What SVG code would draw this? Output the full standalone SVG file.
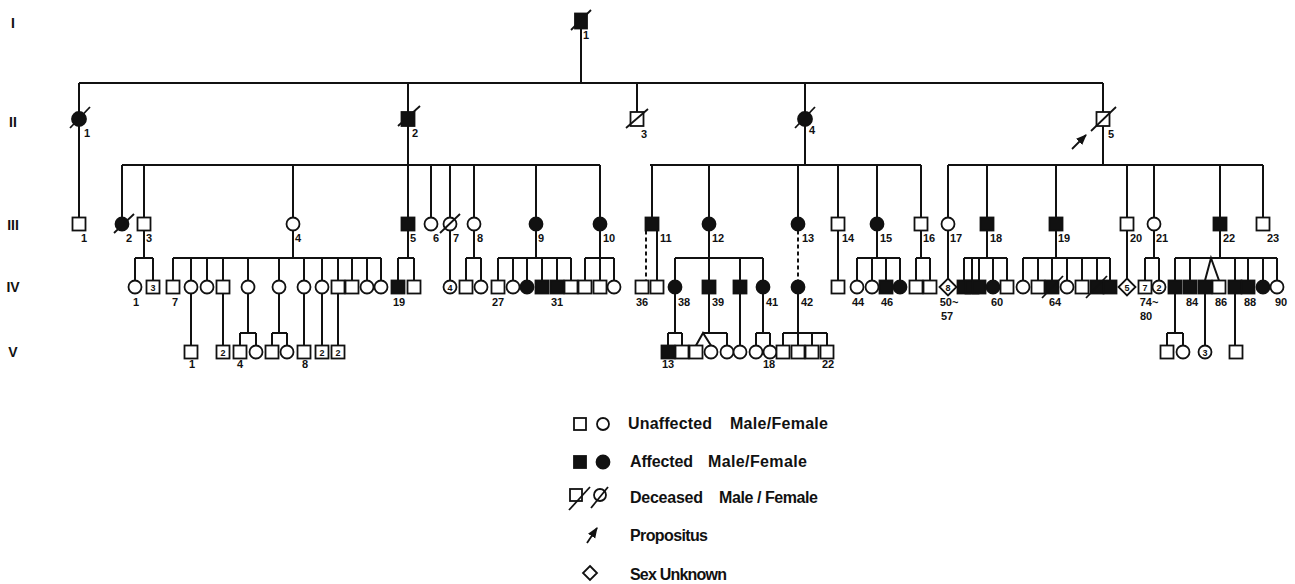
<svg xmlns="http://www.w3.org/2000/svg" width="1295" height="584" viewBox="0 0 1295 584">
<style>
.ln{stroke:#111;stroke-width:2;fill:none}
.d{stroke-dasharray:4 3}
.s,.c,.dm{fill:#fff;stroke:#111;stroke-width:1.8}
.a{fill:#111}
.x{stroke:#111;stroke-width:1.8;fill:none}
.t{font-family:"Liberation Sans",Arial,sans-serif;font-weight:bold;font-size:11px;fill:#111}
.g{font-size:14px;text-anchor:middle}
.in{font-size:9px;text-anchor:middle}
.m{text-anchor:middle}
.lg{font-size:16px}
</style>
<defs>
<marker id="ah" viewBox="0 0 10 10" refX="9" refY="5" markerWidth="6" markerHeight="6" orient="auto"><path d="M0 1L10 5L0 9z" fill="#111"/></marker>
</defs>
<rect width="1295" height="584" fill="#fff"/>
<g id="gen-labels">
<text class="t g" x="13" y="28">I</text>
<text class="t g" x="13" y="127">II</text>
<text class="t g" x="13" y="230">III</text>
<text class="t g" x="13" y="292">IV</text>
<text class="t g" x="13" y="357">V</text>
</g>
<g id="connectors" class="ln">
<path d="M581 28V83M79 83H1103M79 83V112M408 83V112M637 83V112M805 83V112M1103 83V112"/>
<path d="M79 126V217.5M408 126V217.5M805 126V165M1103 126V165"/>
<path d="M122 165H600M650 165H921M948 165H1263"/>
<path d="M122 165V217.5M144 165V217.5M293 165V217.5M431 165V217.5M450 165V217.5M474 165V217.5M536 165V217.5M600 165V217.5M652 165V217.5M709 165V217.5M798 165V217.5M838 165V217.5M877 165V217.5M921 165V217.5M948 165V217.5M987 165V217.5M1056 165V217.5M1127 165V217.5M1154 165V217.5M1220 165V217.5M1263 165V217.5"/>
<path d="M144 230.5V258M135 258H153M135 258V280.5M153 258V280.5"/>
<path d="M293 230.5V258M173 258H381M173 258V280.5M191 258V280.5M207 258V280.5M223 258V280.5M248 258V280.5M279 258V280.5M304 258V280.5M322 258V280.5M338 258V280.5M352 258V280.5M367 258V280.5M381 258V280.5"/>
<path d="M408 230.5V258M398 258H414M398 258V280.5M414 258V280.5"/>
<path d="M450 230.5V280.5"/>
<path d="M474 230.5V258M466 258H481M466 258V280.5M481 258V280.5"/>
<path d="M536 230.5V258M498 258H571M498 258V280.5M513 258V280.5M527 258V280.5M542 258V280.5M557 258V280.5M571 258V280.5"/>
<path d="M600 230.5V258M585 258H614M585 258V280.5M600 258V280.5M614 258V280.5"/>
<path class="d" d="M646 230.5V280.5"/>
<path d="M657 230.5V280.5"/>
<path d="M709 230.5V258M675 258H763M675 258V280.5M709 258V280.5M740 258V280.5M763 258V280.5"/>
<path class="d" d="M798 230.5V280.5"/>
<path d="M838 230.5V280.5"/>
<path d="M877 230.5V258M857 258H900M857 258V280.5M872 258V280.5M886 258V280.5M900 258V280.5"/>
<path d="M921 230.5V258M916 258H930M916 258V280.5M930 258V280.5"/>
<path d="M948 230.5V278.5"/>
<path d="M987 230.5V258M964 258H1007M964 258V280.5M972 258V280.5M979 258V280.5M993 258V280.5M1007 258V280.5"/>
<path d="M1056 230.5V258M1023 258H1110M1023 258V280.5M1038 258V280.5M1052 258V280.5M1067 258V280.5M1082 258V280.5M1097 258V280.5M1110 258V280.5"/>
<path d="M1127 230.5V278.5"/>
<path d="M1154 230.5V258M1145 258H1159M1145 258V280.5M1159 258V280.5"/>
<path d="M1220 230.5V258M1175 258H1277M1175 258V280.5M1190 258V280.5M1235 258V280.5M1248 258V280.5M1263 258V280.5M1277 258V280.5M1205 280.5L1211 258L1219 280.5"/>
<path d="M191 293.5V345.5M223 293.5V345.5M304 293.5V345.5M322 293.5V345.5M338 293.5V345.5"/>
<path d="M248 293.5V333M240 333H256M240 333V345.5M256 333V345.5"/>
<path d="M279 293.5V333M272 333H287M272 333V345.5M287 333V345.5"/>
<path d="M675 293.5V333M668 333H682M668 333V345.5M682 333V345.5"/>
<path d="M709 293.5V333M703 333H727M727 333V345.5M696 345.5L703 333L711 345.5"/>
<path d="M740 293.5V345.5"/>
<path d="M763 293.5V333M756 333H770M756 333V345.5M770 333V345.5"/>
<path d="M798 293.5V333M783 333H827M783 333V345.5M798 333V345.5M812 333V345.5M827 333V345.5"/>
<path d="M1175 293.5V333M1167 333H1183M1167 333V345.5M1183 333V345.5"/>
<path d="M1205 293.5V345.5M1235 293.5V345.5"/>
</g>
<g id="I-1"><rect class="s a" x="575" y="13.5" width="12" height="15"/><path class="x" d="M571 30L591 10"/><text class="t" x="583" y="39">1</text></g>
<g id="II-1"><circle class="c a" cx="79" cy="119" r="7"/><path class="x" d="M70 128L90 107"/><text class="t" x="84" y="137">1</text></g>
<g id="II-2"><rect class="s a" x="401.5" y="112" width="13" height="14"/><path class="x" d="M398 126L420 106"/><text class="t" x="412" y="137">2</text></g>
<g id="II-3"><rect class="s" x="630.5" y="112" width="13" height="14"/><path class="x" d="M626 128L648 109"/><text class="t" x="641" y="138">3</text></g>
<g id="II-4"><circle class="c a" cx="805" cy="119" r="7"/><path class="x" d="M795 128L815 107"/><text class="t" x="809" y="134">4</text></g>
<g id="II-5"><rect class="s" x="1096.5" y="112" width="13" height="14"/><path class="x" d="M1091 131L1116 107"/><text class="t" x="1108" y="138">5</text><path class="x" d="M1072 149L1086 135" marker-end="url(#ah)"/></g>
<g id="III-1"><rect class="s" x="72.5" y="217.5" width="13" height="13"/><text class="t" x="81" y="242">1</text></g>
<g id="III-2"><circle class="c a" cx="122" cy="224" r="6.5"/><path class="x" d="M114 233L134 214"/><text class="t" x="126" y="242">2</text></g>
<g id="III-3"><rect class="s" x="137.5" y="217.5" width="13" height="13"/><text class="t" x="146" y="242">3</text></g>
<g id="III-4"><circle class="c" cx="293" cy="224" r="6.5"/><text class="t" x="295" y="242">4</text></g>
<g id="III-5"><rect class="s a" x="401.5" y="217.5" width="13" height="13"/><text class="t" x="410" y="242">5</text></g>
<g id="III-6"><circle class="c" cx="431" cy="224" r="6.5"/><text class="t" x="433" y="242">6</text></g>
<g id="III-7"><circle class="c" cx="450" cy="224" r="6.5"/><path class="x" d="M440 233L460 214"/><text class="t" x="453" y="242">7</text></g>
<g id="III-8"><circle class="c" cx="474" cy="224" r="6.5"/><text class="t" x="477" y="242">8</text></g>
<g id="III-9"><circle class="c a" cx="536" cy="224" r="6.5"/><text class="t" x="538" y="242">9</text></g>
<g id="III-10"><circle class="c a" cx="600" cy="224" r="6.5"/><text class="t" x="603" y="242">10</text></g>
<g id="III-11"><rect class="s a" x="645.5" y="217.5" width="13" height="13"/><text class="t" x="660" y="242">11</text></g>
<g id="III-12"><circle class="c a" cx="709" cy="224" r="6.5"/><text class="t" x="712" y="242">12</text></g>
<g id="III-13"><circle class="c a" cx="798" cy="224" r="6.5"/><text class="t" x="802" y="242">13</text></g>
<g id="III-14"><rect class="s" x="831.5" y="217.5" width="13" height="13"/><text class="t" x="842" y="242">14</text></g>
<g id="III-15"><circle class="c a" cx="877" cy="224" r="6.5"/><text class="t" x="880" y="242">15</text></g>
<g id="III-16"><rect class="s" x="914.5" y="217.5" width="13" height="13"/><text class="t" x="923" y="242">16</text></g>
<g id="III-17"><circle class="c" cx="948" cy="224" r="6.5"/><text class="t" x="950" y="242">17</text></g>
<g id="III-18"><rect class="s a" x="980.5" y="217.5" width="13" height="13"/><text class="t" x="990" y="242">18</text></g>
<g id="III-19"><rect class="s a" x="1049.5" y="217.5" width="13" height="13"/><text class="t" x="1058" y="242">19</text></g>
<g id="III-20"><rect class="s" x="1120.5" y="217.5" width="13" height="13"/><text class="t" x="1130" y="242">20</text></g>
<g id="III-21"><circle class="c" cx="1154" cy="224" r="6.5"/><text class="t" x="1156" y="242">21</text></g>
<g id="III-22"><rect class="s a" x="1213.5" y="217.5" width="13" height="13"/><text class="t" x="1223" y="242">22</text></g>
<g id="III-23"><rect class="s" x="1256.5" y="217.5" width="13" height="13"/><text class="t" x="1267" y="242">23</text></g>
<g id="IV-1"><circle class="c" cx="135" cy="287" r="6.5"/><text class="t m" x="136" y="306">1</text></g>
<g id="IV-2-4"><rect class="s" x="146.5" y="280.5" width="13" height="13"/><text class="t in" x="153" y="290.5">3</text></g>
<g id="IV-7"><rect class="s" x="166.5" y="280.5" width="13" height="13"/><text class="t m" x="175" y="306">7</text></g>
<g id="IV-8"><circle class="c" cx="191" cy="287" r="6.5"/></g>
<g id="IV-9"><circle class="c" cx="207" cy="287" r="6.5"/></g>
<g id="IV-10"><rect class="s" x="216.5" y="280.5" width="13" height="13"/></g>
<g id="IV-11"><circle class="c" cx="248" cy="287" r="6.5"/></g>
<g id="IV-12"><circle class="c" cx="279" cy="287" r="6.5"/></g>
<g id="IV-13"><circle class="c" cx="304" cy="287" r="6.5"/></g>
<g id="IV-14"><circle class="c" cx="322" cy="287" r="6.5"/></g>
<g id="IV-15"><rect class="s" x="331.5" y="280.5" width="13" height="13"/></g>
<g id="IV-16"><rect class="s" x="345.5" y="280.5" width="13" height="13"/></g>
<g id="IV-17"><circle class="c" cx="367" cy="287" r="6.5"/></g>
<g id="IV-18"><circle class="c" cx="381" cy="287" r="6.5"/></g>
<g id="IV-19"><rect class="s a" x="391.5" y="280.5" width="13" height="13"/><text class="t m" x="399" y="306">19</text></g>
<g id="IV-20"><rect class="s" x="407.5" y="280.5" width="13" height="13"/></g>
<g id="IV-21-24"><circle class="c" cx="450" cy="287" r="6.5"/><text class="t in" x="450" y="290.5">4</text></g>
<g id="IV-25"><rect class="s" x="459.5" y="280.5" width="13" height="13"/></g>
<g id="IV-26"><circle class="c" cx="481" cy="287" r="6.5"/></g>
<g id="IV-27"><rect class="s" x="491.5" y="280.5" width="13" height="13"/><text class="t m" x="498" y="306">27</text></g>
<g id="IV-28"><circle class="c" cx="513" cy="287" r="6.5"/></g>
<g id="IV-29"><circle class="c a" cx="527" cy="287" r="6.5"/></g>
<g id="IV-30"><rect class="s a" x="535.5" y="280.5" width="13" height="13"/></g>
<g id="IV-31"><rect class="s a" x="550.5" y="280.5" width="13" height="13"/><text class="t m" x="557" y="306">31</text></g>
<g id="IV-32"><rect class="s" x="564.5" y="280.5" width="13" height="13"/></g>
<g id="IV-33"><rect class="s" x="578.5" y="280.5" width="13" height="13"/></g>
<g id="IV-34"><rect class="s" x="593.5" y="280.5" width="13" height="13"/></g>
<g id="IV-35"><circle class="c" cx="614" cy="287" r="6.5"/></g>
<g id="IV-36"><rect class="s" x="635.5" y="280.5" width="13" height="13"/><text class="t m" x="642" y="306">36</text></g>
<g id="IV-37"><rect class="s" x="650.5" y="280.5" width="13" height="13"/></g>
<g id="IV-38"><circle class="c a" cx="675" cy="287" r="6.5"/><text class="t" x="678" y="306">38</text></g>
<g id="IV-39"><rect class="s a" x="702.5" y="280.5" width="13" height="13"/><text class="t" x="712" y="306">39</text></g>
<g id="IV-40"><rect class="s a" x="733.5" y="280.5" width="13" height="13"/></g>
<g id="IV-41"><circle class="c a" cx="763" cy="287" r="6.5"/><text class="t" x="766" y="306">41</text></g>
<g id="IV-42"><circle class="c a" cx="798" cy="287" r="6.5"/><text class="t" x="801" y="306">42</text></g>
<g id="IV-43"><rect class="s" x="831.5" y="280.5" width="13" height="13"/></g>
<g id="IV-44"><circle class="c" cx="857" cy="287" r="6.5"/><text class="t m" x="858" y="306">44</text></g>
<g id="IV-45"><circle class="c" cx="872" cy="287" r="6.5"/></g>
<g id="IV-46"><rect class="s a" x="879.5" y="280.5" width="13" height="13"/><text class="t m" x="887" y="306">46</text></g>
<g id="IV-47"><circle class="c a" cx="900" cy="287" r="6.5"/></g>
<g id="IV-48"><rect class="s" x="909.5" y="280.5" width="13" height="13"/></g>
<g id="IV-49"><rect class="s" x="923.5" y="280.5" width="13" height="13"/></g>
<g id="IV-50-57"><path class="dm" d="M948 278.5L956.5 287L948 295.5L939.5 287Z"/><text class="t in" x="948" y="290.5">8</text><text class="t m" x="949" y="306">50~</text><text class="t m" x="947" y="320">57</text></g>
<g id="IV-58"><rect class="s a" x="957.5" y="280.5" width="13" height="13"/></g>
<g id="IV-59"><rect class="s a" x="965.5" y="280.5" width="13" height="13"/></g>
<g id="IV-59b"><rect class="s a" x="972.5" y="280.5" width="13" height="13"/></g>
<g id="IV-60"><circle class="c a" cx="993" cy="287" r="6.5"/><text class="t m" x="997" y="306">60</text></g>
<g id="IV-61"><rect class="s" x="1000.5" y="280.5" width="13" height="13"/></g>
<g id="IV-62"><circle class="c" cx="1023" cy="287" r="6.5"/></g>
<g id="IV-63"><rect class="s" x="1031.5" y="280.5" width="13" height="13"/></g>
<g id="IV-64"><rect class="s a" x="1045.5" y="280.5" width="13" height="13"/><path class="x" d="M1042 298L1063 276"/><text class="t m" x="1055" y="306">64</text></g>
<g id="IV-65"><circle class="c" cx="1067" cy="287" r="6.5"/></g>
<g id="IV-66"><rect class="s" x="1075.5" y="280.5" width="13" height="13"/></g>
<g id="IV-67"><rect class="s a" x="1090.5" y="280.5" width="13" height="13"/><path class="x" d="M1086 298L1107 276"/></g>
<g id="IV-68"><rect class="s a" x="1103.5" y="280.5" width="13" height="13"/></g>
<g id="IV-69-73"><path class="dm" d="M1127 278.5L1135.5 287L1127 295.5L1118.5 287Z"/><text class="t in" x="1127" y="290.5">5</text></g>
<g id="IV-74-80"><rect class="s" x="1138.5" y="280.5" width="13" height="13"/><text class="t in" x="1145" y="290.5">7</text><text class="t m" x="1149" y="306">74~</text><text class="t m" x="1146" y="320">80</text></g>
<g id="IV-81-82"><circle class="c" cx="1159" cy="287" r="6.5"/><text class="t in" x="1159" y="290.5">2</text></g>
<g id="IV-83"><rect class="s a" x="1168.5" y="280.5" width="13" height="13"/></g>
<g id="IV-84"><rect class="s a" x="1183.5" y="280.5" width="13" height="13"/><text class="t m" x="1192" y="306">84</text></g>
<g id="IV-85"><rect class="s a" x="1198.5" y="280.5" width="13" height="13"/></g>
<g id="IV-86"><rect class="s" x="1212.5" y="280.5" width="13" height="13"/><text class="t m" x="1221" y="306">86</text></g>
<g id="IV-87"><rect class="s a" x="1228.5" y="280.5" width="13" height="13"/></g>
<g id="IV-88"><rect class="s a" x="1241.5" y="280.5" width="13" height="13"/><text class="t m" x="1250" y="306">88</text></g>
<g id="IV-89"><circle class="c a" cx="1263" cy="287" r="6.5"/></g>
<g id="IV-90"><circle class="c" cx="1277" cy="287" r="6.5"/><text class="t m" x="1281" y="306">90</text></g>
<g id="V-1"><rect class="s" x="184.5" y="345.5" width="13" height="13"/><text class="t m" x="192" y="368">1</text></g>
<g id="V-2-3"><rect class="s" x="216.5" y="345.5" width="13" height="13"/><text class="t in" x="223" y="355.5">2</text></g>
<g id="V-4"><rect class="s" x="233.5" y="345.5" width="13" height="13"/><text class="t m" x="240" y="368">4</text></g>
<g id="V-5"><circle class="c" cx="256" cy="352" r="6.5"/></g>
<g id="V-6"><rect class="s" x="265.5" y="345.5" width="13" height="13"/></g>
<g id="V-7"><circle class="c" cx="287" cy="352" r="6.5"/></g>
<g id="V-8"><rect class="s" x="297.5" y="345.5" width="13" height="13"/><text class="t m" x="305" y="368">8</text></g>
<g id="V-9-10"><rect class="s" x="315.5" y="345.5" width="13" height="13"/><text class="t in" x="322" y="355.5">2</text></g>
<g id="V-11-12"><rect class="s" x="331.5" y="345.5" width="13" height="13"/><text class="t in" x="338" y="355.5">2</text></g>
<g id="V-13"><rect class="s a" x="661.5" y="345.5" width="13" height="13"/><text class="t m" x="668" y="368">13</text></g>
<g id="V-14"><rect class="s" x="675.5" y="345.5" width="13" height="13"/></g>
<g id="V-15"><rect class="s" x="689.5" y="345.5" width="13" height="13"/></g>
<g id="V-16"><circle class="c" cx="711" cy="352" r="6.5"/></g>
<g id="V-17"><circle class="c" cx="727" cy="352" r="6.5"/></g>
<g id="V-17b"><circle class="c" cx="740" cy="352" r="6.5"/></g>
<g id="V-17c"><circle class="c" cx="756" cy="352" r="6.5"/></g>
<g id="V-18"><circle class="c" cx="770" cy="352" r="6.5"/><text class="t m" x="769" y="368">18</text></g>
<g id="V-19"><rect class="s" x="776.5" y="345.5" width="13" height="13"/></g>
<g id="V-20"><rect class="s" x="791.5" y="345.5" width="13" height="13"/></g>
<g id="V-21"><rect class="s" x="805.5" y="345.5" width="13" height="13"/></g>
<g id="V-22"><rect class="s" x="820.5" y="345.5" width="13" height="13"/><text class="t m" x="828" y="368">22</text></g>
<g id="V-23"><rect class="s" x="1160.5" y="345.5" width="13" height="13"/></g>
<g id="V-24"><circle class="c" cx="1183" cy="352" r="6.5"/></g>
<g id="V-25-27"><circle class="c" cx="1205" cy="352" r="6.5"/><text class="t in" x="1205" y="355.5">3</text></g>
<g id="V-28"><rect class="s" x="1229.5" y="345.5" width="13" height="13"/></g>
<g id="legend">
<rect class="s" x="574" y="418" width="12" height="12"/><circle class="c" cx="603" cy="424" r="6"/>
<text class="t lg" x="628" y="429" textLength="84">Unaffected</text><text class="t lg" x="730" y="429" textLength="98">Male/Female</text>
<rect class="s a" x="574" y="456" width="12" height="12"/><circle class="c a" cx="603" cy="462" r="6.5"/>
<text class="t lg" x="630" y="467" textLength="63">Affected</text><text class="t lg" x="708" y="467" textLength="99">Male/Female</text>
<rect class="s" x="570" y="489" width="12" height="12"/><path class="x" d="M569 510L590 487"/><circle class="c" cx="600" cy="495" r="6"/><path class="x" d="M591 508L608 487"/>
<text class="t lg" x="630" y="503" textLength="73">Deceased</text><text class="t lg" x="719" y="503" textLength="99">Male / Female</text>
<path class="x" d="M587 543L597 528" marker-end="url(#ah)"/>
<text class="t lg" x="630" y="541" textLength="78">Propositus</text>
<path class="dm" d="M590 566L597 573L590 580L583 573Z"/>
<text class="t lg" x="630" y="580" textLength="97">Sex Unknown</text>
</g>
</svg>
